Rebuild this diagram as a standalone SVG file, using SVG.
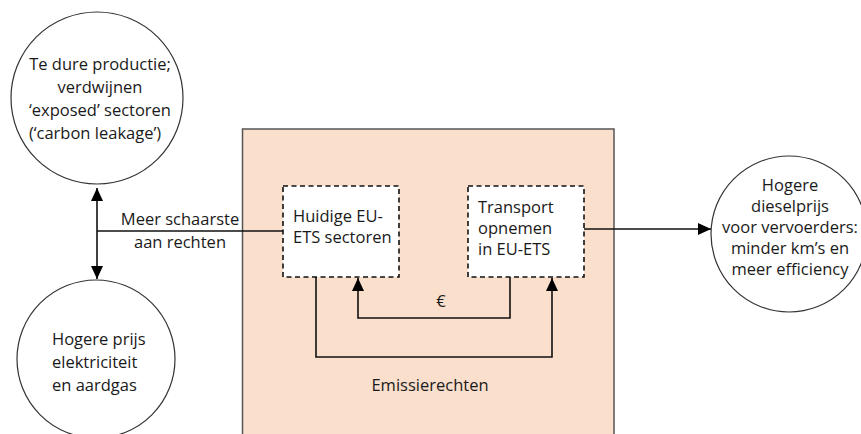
<svg xmlns="http://www.w3.org/2000/svg" width="861" height="434" viewBox="0 0 861 434">
<defs>
<style>
text{font-family:"Open Sans","Noto Sans",sans-serif;font-size:16.5px;fill:#1a1a1a}
.c{text-anchor:middle}
.circ{fill:#fff;stroke:#333;stroke-width:1.2}
.box{fill:#fff;stroke:#111;stroke-width:1.6;stroke-dasharray:5 3.5}
.ln{fill:none;stroke:#111;stroke-width:1.6}
</style>
<marker id="a" viewBox="0 0 13 12" refX="13" refY="6" markerWidth="13" markerHeight="12" markerUnits="userSpaceOnUse" orient="auto-start-reverse">
<path d="M0,0 L13,6 L0,12 Z" fill="#000"/>
</marker>
</defs>
<rect id="frame" x="242.5" y="129" width="371.5" height="320" fill="#F9DFCC" stroke="#555" stroke-width="1.5"/>
<g id="connectors">
<line class="ln" x1="97" y1="188" x2="97" y2="279" marker-start="url(#a)" marker-end="url(#a)"/>
<line class="ln" x1="97" y1="231" x2="283" y2="231"/>
<line class="ln" x1="584" y1="229" x2="711" y2="229" marker-end="url(#a)"/>
<polyline class="ln" points="510,277 510,318 358,318 358,278" marker-end="url(#a)"/>
<polyline class="ln" points="316,277 316,357 552,357 552,278" marker-end="url(#a)"/>
<text class="c" x="180" y="225">Meer schaarste</text>
<text class="c" x="180" y="248">aan rechten</text>
<text class="c" x="441" y="307">€</text>
<text class="c" x="430" y="391">Emissierechten</text>
</g>
<g id="carbon-leakage">
<circle class="circ" cx="97" cy="98" r="86"/>
<text class="c" x="100" y="70">Te dure productie;</text>
<text class="c" x="100" y="93">verdwijnen</text>
<text class="c" x="100" y="116">‘exposed’ sectoren</text>
<text class="c" x="95" y="139">(‘carbon leakage’)</text>
</g>
<g id="hogere-prijs">
<circle class="circ" cx="96" cy="359" r="79"/>
<text x="52" y="345">Hogere prijs</text>
<text x="52" y="368">elektriciteit</text>
<text x="52" y="391">en aardgas</text>
</g>
<g id="huidige">
<rect class="box" x="283" y="186" width="116" height="91"/>
<text x="293" y="222">Huidige EU-</text>
<text x="293" y="243">ETS sectoren</text>
</g>
<g id="transport">
<rect class="box" x="468" y="186" width="116" height="91"/>
<text x="478" y="213">Transport</text>
<text x="478" y="234">opnemen</text>
<text x="478" y="255">in EU-ETS</text>
</g>
<g id="diesel">
<circle class="circ" cx="789" cy="234" r="78"/>
<text class="c" x="790" y="191">Hogere</text>
<text class="c" x="790" y="212">dieselprijs</text>
<text class="c" x="790" y="233">voor vervoerders:</text>
<text class="c" x="790" y="254">minder km’s en</text>
<text class="c" x="790" y="275">meer efficiency</text>
</g>
</svg>
